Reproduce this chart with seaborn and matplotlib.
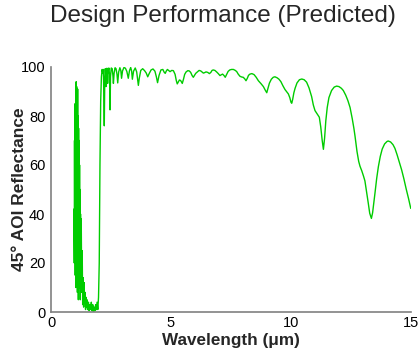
import matplotlib
matplotlib.use("Agg")
import matplotlib.pyplot as plt
import seaborn as sns
import pandas as pd

# ---- data ----
# absorption band region (noisy), 0.95 - 2.1 um
band_wl = [0.95, 0.97, 0.98, 0.99, 1.00, 1.01, 1.02, 1.03, 1.04, 1.05, 1.06, 1.07, 1.08,
           1.09, 1.10, 1.11, 1.12, 1.13, 1.14, 1.15, 1.16, 1.17, 1.18, 1.19, 1.20, 1.21,
           1.22, 1.23, 1.24, 1.26, 1.28, 1.30, 1.32, 1.34, 1.36, 1.38, 1.40, 1.42, 1.44,
           1.46, 1.48, 1.50, 1.53, 1.56, 1.59, 1.62, 1.65, 1.68, 1.71, 1.74, 1.77, 1.80,
           1.83, 1.86, 1.89, 1.92, 1.95, 1.98, 2.01, 2.04, 2.07]
band_r = [42, 20, 70, 30, 85, 15, 80, 10, 90, 94, 40, 92, 25,
          88, 8, 91, 30, 80, 5, 75, 20, 70, 10, 60, 15, 50,
          5, 40, 12, 38, 8, 25, 3, 14, 2, 12, 4, 8, 1,
          6, 2, 5, 1, 4, 0.5, 3, 1, 4, 0.5, 3, 0, 2,
          0.5, 3, 1, 4, 1, 6, 20, 60, 86]

# high-reflectance region with narrow dips, 2.1 - 4.9 um
mid_wl = [2.10, 2.13, 2.16, 2.18, 2.20, 2.22, 2.24, 2.26, 2.28, 2.29, 2.31, 2.33, 2.35,
          2.36, 2.38, 2.41, 2.44, 2.46, 2.48, 2.51, 2.55, 2.58, 2.60, 2.63, 2.67, 2.71,
          2.75, 2.78, 2.82, 2.87, 2.91, 2.94, 2.98, 3.04, 3.10, 3.16, 3.22, 3.27, 3.32,
          3.36, 3.39, 3.44, 3.51, 3.57, 3.61, 3.64, 3.68, 3.74, 3.82, 3.90, 3.97, 4.03,
          4.09, 4.17, 4.25, 4.33, 4.39, 4.44, 4.50, 4.58, 4.66, 4.72, 4.76, 4.80]
mid_r = [96, 99, 97.5, 99, 90, 76, 95, 99.3, 97, 92, 98, 99.5, 96,
         93.3, 98, 99.6, 97, 82.5, 96, 99.6, 99.3, 96.5, 93.3, 97.5, 99.7, 99.3,
         97, 93.5, 98, 99.7, 98.5, 95.4, 98.4, 99.8, 99.5, 98.2, 95.4, 98.5, 99.8,
         98.3, 95.0, 98.3, 99.6, 98.0, 95, 92.5, 95.5, 98.6, 99.3, 98.5, 97.5, 96.0,
         97.3, 98.8, 99.2, 98.3, 96, 93.6, 96.5, 98.8, 99.0, 97.8, 97.4, 98.3]

# smooth long-wave region, 4.85 - 15 um
long_wl = [4.85, 4.96, 5.03, 5.10, 5.17, 5.22, 5.26, 5.30, 5.35, 5.40, 5.47, 5.52, 5.57,
           5.63, 5.70, 5.76, 5.82, 5.88, 5.93, 5.98, 6.03, 6.10, 6.17, 6.24, 6.30, 6.35,
           6.40, 6.46, 6.53, 6.60, 6.66, 6.71, 6.76, 6.83, 6.90, 6.97, 7.04, 7.09, 7.15,
           7.21, 7.26, 7.32, 7.38, 7.45, 7.52, 7.60, 7.68, 7.74, 7.80, 7.875, 7.95, 8.01,
           8.07, 8.125, 8.18, 8.23, 8.29, 8.37, 8.46, 8.55, 8.64, 8.75, 8.85, 8.93, 8.99,
           9.04, 9.10, 9.18, 9.26, 9.33, 9.42, 9.50, 9.58, 9.66, 9.75, 9.83, 9.89, 9.95,
           10.00, 10.03, 10.07, 10.12, 10.17, 10.25, 10.35, 10.45, 10.55, 10.65, 10.75,
           10.86, 10.93, 11.00, 11.08, 11.18, 11.24, 11.30, 11.35, 11.40, 11.45, 11.51,
           11.58, 11.69, 11.80, 11.90, 12.00, 12.10, 12.18, 12.28, 12.37, 12.46, 12.55,
           12.62, 12.67, 12.75, 12.82, 12.875, 12.95, 13.02, 13.08, 13.15, 13.22, 13.28,
           13.35, 13.40, 13.45, 13.50, 13.57, 13.64, 13.72, 13.80, 13.90, 14.00, 14.05,
           14.15, 14.25, 14.33, 14.42, 14.52, 14.61, 14.70, 14.80, 14.90, 14.99]
long_r = [99.0, 98.1, 98.6, 98.5, 97.0, 94.5, 93.1, 93.8, 94.7, 94.5, 93.3, 95.0, 97.0,
          98.0, 98.5, 98.4, 97.8, 96.5, 95.8, 96.6, 97.4, 98.0, 98.6, 98.4, 97.9, 97.5,
          97.7, 98.0, 97.8, 97.3, 97.8, 98.6, 98.8, 98.6, 98.0, 97.3, 96.5, 96.8, 97.1,
          96.5, 95.8, 97.0, 98.2, 98.8, 99.0, 99.0, 98.6, 98.1, 97.1, 96.2, 95.9, 95.8,
          95.2, 94.4, 95.4, 96.6, 97.1, 97.3, 96.9, 95.8, 94.4, 93.2, 92.0, 90.5, 89.5,
          91.2, 93.4, 95.0, 95.8, 96.0, 95.6, 95.0, 94.0, 92.4, 90.8, 89.8, 89.0, 87.5,
          85.6, 85.2, 86.8, 89.5, 91.3, 93.5, 94.8, 95.1, 94.8, 93.8, 91.5,
          87.9, 84.5, 82.2, 81.0, 79.5, 75.5, 70.0, 66.4, 71.0, 78.0, 83.5,
          87.5, 90.4, 91.8, 92.2, 92.0, 91.3, 90.4, 88.5, 86.3, 83.5, 79.0,
          75.0, 71.6, 65.5, 61.5, 59.5, 57.6, 55.5, 53.5, 49.0, 44.4, 40.3,
          38.2, 40.5, 44.5, 48.6, 54.5, 59.3, 63.5, 66.5, 68.6, 69.6, 69.8,
          69.4, 68.3, 66.8, 64.2, 61.0, 58.0, 54.5, 50.2, 46.2, 42.3]

x_ticks = [0, 5, 10, 15]
y_ticks = [0, 20, 40, 60, 80, 100]

wavelength = band_wl + mid_wl + long_wl
reflectance = band_r + mid_r + long_r
df = pd.DataFrame({"wl": wavelength, "R": reflectance})

sns.set_style("white")
plt.rcParams["font.family"] = ["Liberation Sans", "DejaVu Sans"]

fig = plt.figure(figsize=(4.2, 3.51), dpi=100)
ax = fig.add_axes([51 / 420, 39 / 351, 360 / 420, 245 / 351])

sns.lineplot(data=df, x="wl", y="R", ax=ax, color="#00CC00", linewidth=1.0,
             estimator=None, sort=False)

ax.set_xlim(0, 15)
ax.set_ylim(0, 100)
ax.set_xticks(x_ticks)
ax.set_yticks(y_ticks)
ax.tick_params(direction="in", length=5, width=1, colors="#808080",
               labelcolor="black", labelsize=10.5)
ax.tick_params(axis="y", pad=4)
ax.tick_params(axis="x", pad=3)
for s in ["top", "right"]:
    ax.spines[s].set_visible(False)
for s in ["left", "bottom"]:
    ax.spines[s].set_color("#808080")
    ax.spines[s].set_linewidth(1.2)

ax.set_xlabel("Wavelength (\u03bcm)", fontsize=12.3, fontweight="bold")
ax.set_ylabel("45\u00b0 AOI Reflectance", fontsize=12.5, fontweight="bold")
ax.xaxis.set_label_coords(0.5, -0.0857)
ax.yaxis.set_label_coords(-0.067, 0.5)
fig.text(223 / 420, 1 - 16 / 351, "Design Performance (Predicted)", ha="center",
         va="center", fontsize=17.5)

fig.savefig("out.png", dpi=100)
